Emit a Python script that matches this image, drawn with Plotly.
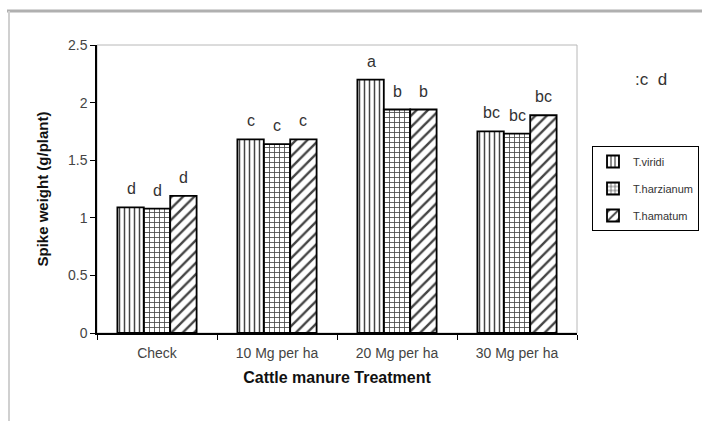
import plotly.graph_objects as go

categories = ["Check", "10 Mg per ha", "20 Mg per ha", "30 Mg per ha"]
series_names = ["T.viridi", "T.harzianum", "T.hamatum"]
viridi = [1.09, 1.68, 2.20, 1.75]
harzianum = [1.08, 1.64, 1.94, 1.73]
hamatum = [1.19, 1.68, 1.94, 1.89]
viridi_letters = ["d", "c", "a", "bc"]
harzianum_letters = ["d", "c", "b", "bc"]
hamatum_letters = ["d", "c", "b", "bc"]
y_ticks = [0, 0.5, 1, 1.5, 2, 2.5]
y_tick_labels = ["0", "0.5", "1", "1.5", "2", "2.5"]

values = [viridi, harzianum, hamatum]
letters = [viridi_letters, harzianum_letters, hamatum_letters]
shapes_pat = ["|", "+", "/"]
bar_px = 26

fig = go.Figure()
annotations = []
for i, name in enumerate(series_names):
    fig.add_trace(go.Bar(
        x=categories, y=values[i], name=name,
        legendgroup=name,
        marker=dict(
            color="white",
            line=dict(color="black", width=1.8),
            pattern=dict(shape=shapes_pat[i], fgcolor="#444444", bgcolor="white",
                         size=5 if i != 2 else 8, solidity=0.3, fillmode="replace"),
        ),
    ))
    for c, v, t in zip(categories, values[i], letters[i]):
        annotations.append(dict(
            x=c, y=v, xref="x", yref="y", text=t, showarrow=False,
            xshift=(i - 1) * bar_px, yshift=8, yanchor="bottom",
            font=dict(size=16, color="#333333"),
        ))

L, R, T, B = 97, 577, 45, 333
W, H = 702, 421

def px(x):
    return (x - L) / (R - L)

def py(y):
    return (B - y) / (B - T)

annotations.append(dict(text=":c&nbsp;&nbsp;d", xref="paper", yref="paper", x=px(669), y=py(68),
                        xanchor="right", showarrow=False, font=dict(size=17, color="#333333")))

fig.update_layout(
    width=W, height=H,
    margin=dict(l=L, r=W - R, t=T, b=H - B, pad=0, autoexpand=False),
    paper_bgcolor="white", plot_bgcolor="white",
    barmode="group", bargap=0.34, bargroupgap=0,
    font=dict(family="Liberation Sans, Arial", size=11, color="#333333"),
    showlegend=True,
    legend=dict(
        x=px(592), y=py(146), xanchor="left", yanchor="top",
        bordercolor="black", borderwidth=1, bgcolor="white",
        font=dict(size=11, color="#333333"),
        tracegroupgap=8, traceorder="grouped",
        itemwidth=30,
    ),
    xaxis=dict(
        showline=True, linecolor="black", linewidth=1.5,
        ticks="outside", tickson="boundaries", ticklen=5, tickcolor="black",
        ticklabelstandoff=6,
        tickfont=dict(size=14, color="#444444"),
        title=dict(text="<b>Cattle manure Treatment</b>", font=dict(size=16, color="#111111"), standoff=12),
    ),
    yaxis=dict(
        range=[0, 2.5], tickvals=y_ticks, ticktext=y_tick_labels,
        showline=True, linecolor="black", linewidth=1.5,
        ticks="outside", ticklen=5, tickcolor="black",
        showgrid=False, zeroline=False,
        tickfont=dict(size=14, color="#444444"),
        title=dict(text="<b>Spike weight (g/plant)</b>", font=dict(size=15, color="#111111"), standoff=16),
    ),
    shapes=[
        dict(type="rect", xref="paper", yref="paper", x0=0, x1=1, y0=0, y1=1,
             line=dict(color="#b8b8b8", width=1), layer="below"),
        dict(type="line", xref="paper", yref="paper", x0=px(7), x1=px(702), y0=py(11), y1=py(11),
             line=dict(color="#b0b0b0", width=3)),
        dict(type="line", xref="paper", yref="paper", x0=px(9), x1=px(9), y0=py(11), y1=py(421),
             line=dict(color="#d0d0d0", width=2)),
    ],
    annotations=annotations,
)

fig.write_html("out.html", config={"displayModeBar": False},
               post_script="document.body.style.margin='0';")
